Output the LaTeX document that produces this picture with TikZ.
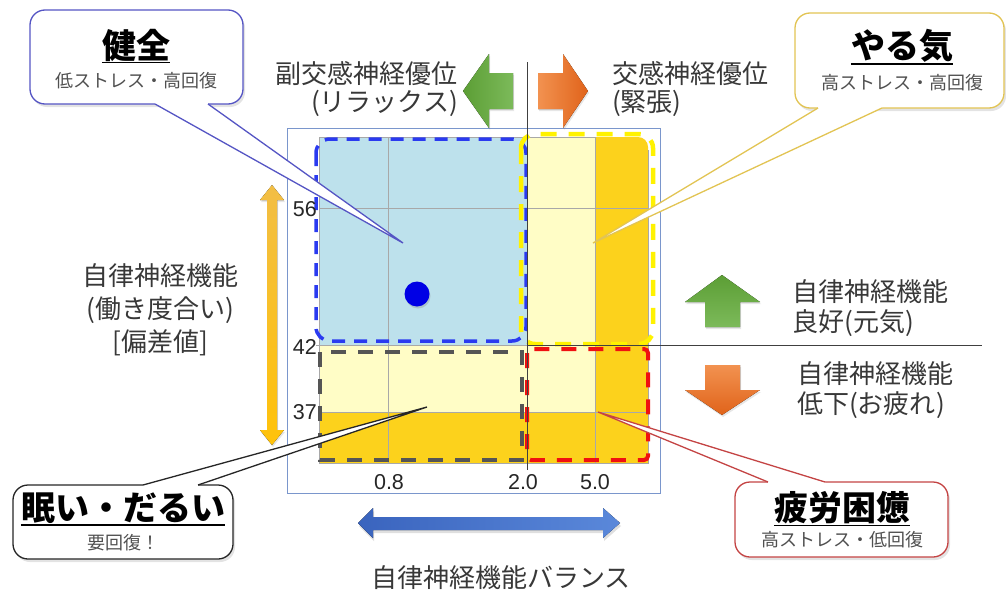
\documentclass[tikz,border=0pt]{standalone}
\usepackage{fontspec}
\setmainfont{Noto Sans CJK JP}
\newfontfamily\numfont{Liberation Sans}
\usetikzlibrary{shadows}
\definecolor{lblue}{HTML}{BDE1EC}
\definecolor{lyel}{HTML}{FFFDC6}
\definecolor{gold}{HTML}{FCD21C}
\definecolor{gridg}{HTML}{A8A8A8}
\definecolor{txt}{HTML}{383838}
\definecolor{subtxt}{HTML}{505050}
\definecolor{framec}{HTML}{7A96CC}
\definecolor{dashblue}{HTML}{2A3AF0}
\definecolor{dashyel}{HTML}{FFF200}
\definecolor{dashgray}{HTML}{555555}
\definecolor{dashred}{HTML}{F01010}
\definecolor{callblue}{HTML}{5555C4}
\definecolor{callgold}{HTML}{E2C453}
\definecolor{callred}{HTML}{C44444}
\definecolor{greenA}{HTML}{5C9E35}
\definecolor{greenB}{HTML}{7CBA5A}
\definecolor{orangeA}{HTML}{F29250}
\definecolor{orangeB}{HTML}{E0631A}
\definecolor{goldA}{HTML}{F2BE45}
\definecolor{goldB}{HTML}{FFC20A}
\definecolor{blueA}{HTML}{3A64BE}
\definecolor{blueB}{HTML}{5A88DA}
\tikzset{
  lbl/.style={font=\fontsize{26pt}{30pt}\selectfont, text=txt, inner sep=0pt},
  num/.style={font=\numfont\fontsize{21.5pt}{23pt}\selectfont, text=black!85, inner sep=0pt},
  ctitle/.style={font=\bfseries\fontsize{34pt}{36pt}\selectfont, text=black, inner sep=0pt},
  csub/.style={font=\fontsize{18pt}{20pt}\selectfont, text=subtxt, inner sep=0pt},
  gridline/.style={draw=gridg, line width=0.8pt},
  axisline/.style={draw=black!75, line width=0.9pt},
  cbox/.style={fill=white, rounded corners=15pt, drop shadow={opacity=0.22, shadow xshift=2pt, shadow yshift=-3pt}},
  uline/.style={line width=1.8pt, draw=black},
}
\begin{document}
\begin{tikzpicture}[x=1pt,y=-1pt]
\useasboundingbox (0,0) rectangle (1006,597);

% ---- grid cells
\fill[lblue] (319,137) rectangle (527,345);
\fill[lyel] (527,137) rectangle (595,345);
\fill[gold, rounded corners=10pt] (595,137) -- (648,137) -- (648,200) [sharp corners] -- (648,345) -- (595,345) -- cycle;
\fill[lyel] (319,345) rectangle (595,412);
\fill[gold] (595,345) rectangle (648,412);
\fill[gold] (319,412) rectangle (648,463);
% ---- grid lines
\draw[gridline] (388,137) -- (388,463);
\draw[gridline] (595,137) -- (595,463);
\draw[gridline] (319,208) -- (648,208);
\draw[gridline] (316,345) -- (648,345);
\draw[gridline] (319,412) -- (648,412);
\draw[gridline] (319,137) -- (595,137);
\draw[gridline] (648,150) -- (648,463) -- (319,463) -- (319,137);
% ---- outer frame
\draw[framec, line width=0.9pt] (287,128) rectangle (660,493);

% ---- dashed groups
\draw[dashblue, line width=3.5pt, dash pattern=on 13pt off 9pt, rounded corners=14pt] (316,139) rectangle (526,341);
\draw[dashyel, line width=4.5pt, dash pattern=on 16pt off 12pt, rounded corners=14pt] (521,134) rectangle (653,344);
\draw[dashgray, line width=4pt, dash pattern=on 15pt off 12pt] (320,352) rectangle (522,460);
\draw[dashred, line width=4pt, dash pattern=on 15pt off 12pt, rounded corners=4pt] (527,349) rectangle (648,460);

% ---- axes
\draw[axisline] (527,62) -- (527,470);
\draw[axisline] (527,345) -- (982,345);

% ---- blue dot
\fill[blue!90!black, drop shadow={opacity=0.3, shadow xshift=1pt, shadow yshift=-2pt}] (417,294) circle (12.5pt);

% ---- axis numbers
\node[num, anchor=east] (n56) at (317,209) {56};
\node[num, anchor=east] (n42) at (317,347) {42};
\node[num, anchor=east] (n37) at (317,412) {37};
\node[num] (x08) at (389,482) {0.8};
\node[num] (x20) at (523,482) {2.0};
\node[num] (x50) at (595,482) {5.0};

% ---- top arrows
\fill[left color=greenA, right color=greenB, drop shadow={opacity=0.2, shadow xshift=1pt, shadow yshift=-2pt}]
  (463,91) -- (489,54) -- (489,73) -- (513,73) -- (513,109) -- (489,109) -- (489,128) -- cycle;
\fill[left color=orangeA, right color=orangeB, drop shadow={opacity=0.2, shadow xshift=1pt, shadow yshift=-2pt}]
  (588,91) -- (563,54) -- (563,73) -- (538,73) -- (538,109) -- (563,109) -- (563,128) -- cycle;

% ---- right arrows
\fill[top color=greenA, bottom color=greenB, drop shadow={opacity=0.2, shadow xshift=1pt, shadow yshift=-2pt}]
  (722,275) -- (760,302) -- (740,302) -- (740,327) -- (705,327) -- (705,302) -- (685,302) -- cycle;
\fill[top color=orangeA, bottom color=orangeB, drop shadow={opacity=0.2, shadow xshift=1pt, shadow yshift=-2pt}]
  (722,415) -- (760,390) -- (740,390) -- (740,365) -- (705,365) -- (705,390) -- (685,390) -- cycle;

% ---- left vertical double arrow
\fill[top color=goldA, bottom color=goldB, drop shadow={opacity=0.2, shadow xshift=1pt, shadow yshift=-2pt}]
  (272,185) -- (284,200) -- (277,200) -- (277,430) -- (284,430) -- (272,445) -- (260,430) -- (267,430) -- (267,200) -- (260,200) -- cycle;

% ---- bottom horizontal double arrow
\fill[left color=blueA, right color=blueB, drop shadow={opacity=0.25, shadow xshift=1pt, shadow yshift=-3pt}]
  (358,523) -- (373,508) -- (373,517) -- (603,517) -- (603,508) -- (620,523) -- (603,538) -- (603,530) -- (373,530) -- (373,538) -- cycle;

% ---- labels
\node[lbl, anchor=east, align=right, font=\fontsize{26pt}{28pt}\selectfont] (para) at (458,89) {副交感神経優位\\(リラックス)};
\node[lbl, anchor=west, align=left, font=\fontsize{26pt}{28pt}\selectfont] (sym) at (612,89) {交感神経優位\\(緊張)};
\node[lbl, align=center, font=\fontsize{26pt}{33pt}\selectfont] (ylab) at (160,310) {自律神経機能\\(働き度合い)\\{[}偏差値{]}};
\node[lbl, anchor=west, align=left] (good) at (792,308) {自律神経機能\\良好(元気)};
\node[lbl, anchor=west, align=left] (bad) at (797,390) {自律神経機能\\低下(お疲れ)};
\node[lbl] (xlab) at (501,578) {自律神経機能バランス};

% ---- callout: 健全
\coordinate (tipA) at (403,243);
\path[cbox] (30,10) rectangle (243,104);
\draw[callblue, line width=1.3pt, rounded corners=15pt] (30,10) rectangle (243,104);
\fill[white] (155,100) -- (155,104) -- (tipA) -- (208,104) -- (208,100) -- cycle;
\draw[callblue, line width=1.3pt] (155,104) -- (tipA) -- (208,104);
\node[ctitle] (tA) at (136,45) {健全};
\draw[uline] ([yshift=-1pt]tA.south west) -- ([yshift=-1pt]tA.south east);
\node[csub] (sA) at (136,81) {低ストレス・高回復};

% ---- callout: やる気
\coordinate (tipB) at (593,243);
\path[cbox] (795,13) rectangle (1004,108);
\draw[callgold, line width=1.3pt, rounded corners=15pt] (795,13) rectangle (1004,108);
\fill[white] (818,104) -- (818,108) -- (tipB) -- (882,108) -- (882,104) -- cycle;
\draw[callgold, line width=1.3pt] (818,108) -- (tipB) -- (882,108);
\node[ctitle] (tB) at (902,46) {やる気};
\draw[uline] ([yshift=-1pt]tB.south west) -- ([yshift=-1pt]tB.south east);
\node[csub] (sB) at (902,83) {高ストレス・高回復};

% ---- callout: 眠い・だるい
\coordinate (tipC) at (427,407);
\path[cbox] (13,485) rectangle (233,559);
\draw[black!85, line width=1.3pt, rounded corners=15pt] (13,485) rectangle (233,559);
\fill[white] (143,489) -- (143,485) -- (tipC) -- (198,485) -- (198,489) -- cycle;
\draw[black!85, line width=1.3pt] (143,485) -- (tipC) -- (198,485);
\node[ctitle] (tC) at (123,508) {眠い・だるい};
\draw[uline] ([yshift=-1pt]tC.south west) -- ([yshift=-1pt]tC.south east);
\node[csub] (sC) at (123,543) {要回復！};

% ---- callout: 疲労困憊
\coordinate (tipD) at (598,412);
\path[cbox] (735,482) rectangle (948,557);
\draw[callred, line width=1.3pt, rounded corners=15pt] (735,482) rectangle (948,557);
\fill[white] (768,486) -- (768,482) -- (tipD) -- (825,482) -- (825,486) -- cycle;
\draw[callred, line width=1.3pt] (768,482) -- (tipD) -- (825,482);
\node[ctitle] (tD) at (842,508) {疲労困憊};
\draw[uline] ([yshift=-1pt]tD.south west) -- ([yshift=-1pt]tD.south east);
\node[csub] (sD) at (842,540) {高ストレス・低回復};
\end{tikzpicture}
\end{document}
